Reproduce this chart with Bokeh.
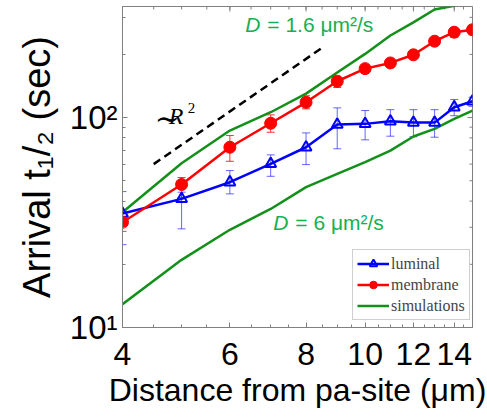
import math
from bokeh.plotting import figure
from bokeh.models import (FixedTicker, Whisker, TeeHead, ColumnDataSource,
                          Legend, LegendItem, Label, Range1d)
from bokeh.embed import file_html
from bokeh.resources import INLINE

# ---------------- data ----------------
distance = [4, 5, 6, 7, 8, 9, 10, 11, 12, 13, 14, 15]

luminal = [34.9, 41.0, 49.2, 60.2, 72.2, 92.6, 93.3, 96.0, 94.6, 94.6, 112.0, 119.6]
luminal_lo = [24.8, 29.5, 43.3, 52.5, 59.7, 71.0, 78.3, 81.5, 81.0, 80.6, 102.0, 113.0]
luminal_hi = [44.4, 44.1, 55.9, 66.4, 84.5, 111.2, 108.0, 109.0, 109.0, 109.0, 121.8, 125.0]

membrane = [31.7, 48.0, 72.2, 93.9, 118.2, 148.9, 171.0, 182.0, 199.0, 231.0, 255.0, 262.0]
membrane_lo = [28.7, 41.6, 61.9, 85.1, 110.0, 139.0, 162.5, 176.0, 193.0, 224.0, 241.0, 248.0]
membrane_hi = [35.3, 51.8, 82.1, 103.0, 127.0, 157.0, 179.0, 188.0, 205.0, 238.0, 267.0, 275.0]

sim_slow = [35.4, 60.6, 86.7, 106.0, 130.0, 164.0, 201.0, 246.0, 284.0, 327.0, 341.0, 390.0]  # D = 1.6
sim_fast = [12.9, 21.0, 29.2, 36.7, 46.6, 53.9, 61.3, 69.6, 81.2, 88.3, 98.6, 108.0]        # D = 6

guide_x = [4.5, 8.5]
guide_y = [60.0, 215.0]

x_lim = (4, 15)
y_lim = (10, 338)
x_ticks = [4, 6, 8, 10, 12, 14]
x_tick_labels = {4: "4", 6: "6", 8: "8", 10: "10", 12: "12", 14: "14"}
x_minor = [4.5, 5, 5.5, 6, 6.5, 7, 7.5, 8, 8.5, 9, 9.5, 10, 10.5, 11, 11.5, 12, 12.5, 13, 13.5, 14, 14.5, 15]
y_ticks = [10, 100]
y_tick_labels = {10: "10¹", 100: "10²"}
y_minor = [20, 30, 40, 50, 60, 70, 80, 90, 200, 300]

# ---------------- style ----------------
BLUE = "#0000ff"
RED = "#ff0000"
GREEN = "#12901a"
TEXT_GREEN = "#16b050"
AXIS = "#808080"
FONT = "Liberation Sans"
SERIF = "Liberation Serif"

p = figure(x_axis_type="log", y_axis_type="log",
           x_range=Range1d(*x_lim), y_range=Range1d(*y_lim),
           frame_width=350, frame_height=321,
           min_border_left=122, min_border_right=14, min_border_top=6, min_border_bottom=86,
           output_backend="svg", toolbar_location=None)
p.grid.visible = False
p.outline_line_color = AXIS
p.background_fill_color = "white"
p.border_fill_color = "white"

def style_axis(ax, ticks, minor, labels):
    ax.ticker = FixedTicker(ticks=ticks, minor_ticks=minor)
    ax.major_label_overrides = labels
    ax.axis_line_color = AXIS
    ax.major_tick_line_color = AXIS
    ax.minor_tick_line_color = AXIS
    ax.major_tick_in = 5
    ax.major_tick_out = 0
    ax.minor_tick_in = 3
    ax.minor_tick_out = 0
    ax.major_label_text_font = FONT
    ax.major_label_text_color = "black"
    ax.major_label_text_font_size = "32px"
    ax.axis_label_text_font = FONT
    ax.axis_label_text_font_style = "normal"
    ax.axis_label_text_color = "black"

xa = p.xaxis[0]
style_axis(xa, x_ticks, x_minor, x_tick_labels)
xa.major_label_standoff = 15
xa.axis_label = "Distance from pa-site (μm)"
xa.axis_label_text_font_size = "32px"
xa.axis_label_standoff = 4

ya = p.yaxis[0]
style_axis(ya, y_ticks, y_minor, y_tick_labels)
ya.major_label_text_font_size = "33px"
ya.major_label_standoff = 5
ya.axis_label = "Arrival t₁/₂ (sec)"
ya.axis_label_text_font_size = "38px"
ya.axis_label_standoff = 9

# ticks on the top and right edges of the box (half of each dash is clipped by the frame)
top_y = [y_lim[1]] * len(x_ticks)
top_y_minor = [y_lim[1]] * len(x_minor)
right_x = [x_lim[1]] * len(y_ticks)
right_x_minor = [x_lim[1]] * len(y_minor)
p.scatter(x_ticks, top_y, marker="dash", angle=math.pi / 2, size=10, line_color=AXIS, line_width=1)
p.scatter(x_minor, top_y_minor, marker="dash", angle=math.pi / 2, size=6, line_color=AXIS, line_width=1)
p.scatter(right_x, y_ticks, marker="dash", size=10, line_color=AXIS, line_width=1)
p.scatter(right_x_minor, y_minor, marker="dash", size=6, line_color=AXIS, line_width=1)

# ---------------- glyphs ----------------
p.line(distance, sim_slow, line_color=GREEN, line_width=2.5)
fast_r = p.line(distance, sim_fast, line_color=GREEN, line_width=2.5)

p.line(guide_x, guide_y, line_color="black", line_width=2.5, line_dash="8 5")

lum_src = ColumnDataSource(dict(x=distance, y=luminal, lo=luminal_lo, hi=luminal_hi))
mem_src = ColumnDataSource(dict(x=distance, y=membrane, lo=membrane_lo, hi=membrane_hi))

for src, col, alpha in ((lum_src, BLUE, 0.6), (mem_src, RED, 0.8)):
    w = Whisker(source=src, base="x", upper="hi", lower="lo",
                line_color=col, line_alpha=alpha, line_width=1,
                upper_head=TeeHead(size=8, line_color=col, line_alpha=alpha, line_width=1),
                lower_head=TeeHead(size=8, line_color=col, line_alpha=alpha, line_width=1))
    w.level = "underlay"
    p.add_layout(w)

lum_line = p.line("x", "y", source=lum_src, line_color=BLUE, line_width=2.5)
lum_pts = p.scatter("x", "y", source=lum_src, marker="triangle", size=11,
                    line_color=BLUE, line_width=2, fill_color=None)
mem_line = p.line("x", "y", source=mem_src, line_color=RED, line_width=2.5)
mem_pts = p.scatter("x", "y", source=mem_src, marker="circle", size=12,
                    line_color=RED, fill_color=RED)

# ---------------- annotations ----------------
def add_label(x, y, text, size, color, font=FONT, style="normal", x_offset=0, y_offset=0):
    p.add_layout(Label(x=x, y=y, text=text, text_font=font, text_font_size=size,
                       text_font_style=style, text_color=color, text_baseline="alphabetic",
                       x_offset=x_offset, y_offset=y_offset + 8))

add_label(6.36, 248, "D", "21px", TEXT_GREEN, style="italic", y_offset=2)
add_label(6.36, 248, "= 1.6 μm²/s", "21px", TEXT_GREEN, x_offset=22, y_offset=2)
add_label(7.07, 28.7, "D", "21px", TEXT_GREEN, style="italic", y_offset=1)
add_label(7.07, 28.7, "= 6 μm²/s", "21px", TEXT_GREEN, x_offset=22, y_offset=1)

add_label(4.52, 93.6, "∼", "30px", "black", font="DejaVu Serif", y_offset=-3)
add_label(4.52, 93.6, "R", "24px", "black", font=SERIF, style="italic", x_offset=14)
add_label(4.52, 93.6, "2", "15px", "black", font=SERIF, x_offset=33, y_offset=8)

legend = Legend(items=[LegendItem(label="luminal", renderers=[lum_line, lum_pts]),
                       LegendItem(label="membrane", renderers=[mem_line, mem_pts]),
                       LegendItem(label="simulations", renderers=[fast_r])],
                location=(230, 7))
legend.label_text_font = SERIF
legend.label_text_font_size = "16px"
legend.glyph_width = 32
legend.glyph_height = 19
legend.label_height = 19
legend.label_standoff = 2
legend.spacing = 2
legend.padding = 4
legend.margin = 0
legend.border_line_color = "#a0a0a0"
legend.border_line_width = 1
legend.background_fill_alpha = 1
p.add_layout(legend, "center")

open("out.html", "w").write(file_html(p, INLINE))
